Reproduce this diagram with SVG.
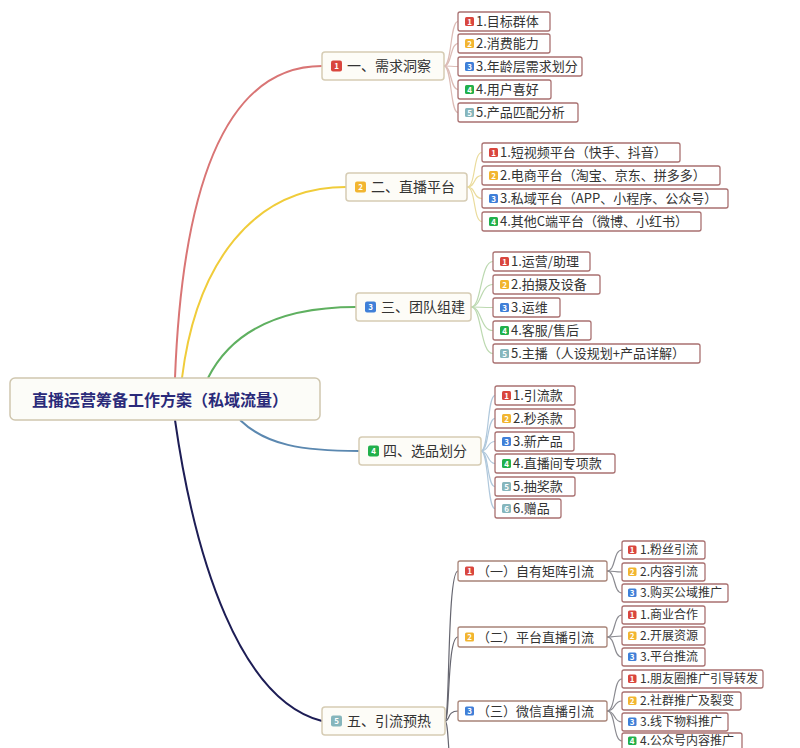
<svg xmlns="http://www.w3.org/2000/svg" width="800" height="748" viewBox="0 0 800 748">
<style>
text{font-family:"Noto Sans CJK SC","Noto Sans",sans-serif;}
.root{fill:#fcfcf8;stroke:#cfc6ae;stroke-width:1.5;}
.rt{font-size:16px;font-weight:bold;fill:#2a2a7a;}
.br{fill:#fdfcf7;stroke:#d6ccb4;stroke-width:1.5;}
.brt{font-size:14px;fill:#333;}
.sub{fill:#fff;stroke:#a88478;stroke-width:1.3;}
.subt{font-size:13px;fill:#333;}
.leaf{fill:#fff;stroke:#a97070;stroke-width:1.3;}
.lt{font-size:13px;fill:#333;}
.lt5{font-size:12px;fill:#333;}
.bt{font-size:8px;font-weight:bold;fill:#fff;text-anchor:middle;}
.c1{fill:#d9463e;}.c2{fill:#f2b530;}.c3{fill:#3f7fd8;}.c4{fill:#22b04b;}.c5{fill:#86b6bc;}
.main{fill:none;stroke-width:2;}
.k{fill:none;stroke-width:1.2;}
</style>
<rect width="800" height="748" fill="#ffffff"/>
<g id="connectors">
<path class="main" stroke="#d97575" d="M175 378 C 183 170, 232 66, 322 66"/>
<path class="main" stroke="#f0cc3a" d="M182 378 C 196 265, 252 187, 346 187"/>
<path class="main" stroke="#5fb060" d="M208 378 C 232 330, 282 307, 356 307"/>
<path class="main" stroke="#5b88b0" d="M240 420 C 266 445, 302 451, 359 451"/>
<path class="main" stroke="#1d1d55" d="M175 420 C 195 560, 240 700, 322 721"/>
<g stroke="#dcbcb6">
<path class="k" d="M444 66 C 452 66, 450 21.5, 458 21.5"/>
<path class="k" d="M444 66 C 452 66, 450 43.5, 458 43.5"/>
<path class="k" d="M444 66 C 452 66, 450 66.5, 458 66.5"/>
<path class="k" d="M444 66 C 452 66, 450 89.5, 458 89.5"/>
<path class="k" d="M444 66 C 452 66, 450 112.5, 458 112.5"/>
</g>
<g stroke="#eadb9c">
<path class="k" d="M467 187 C 476 187, 473 152.5, 482 152.5"/>
<path class="k" d="M467 187 C 476 187, 473 175.5, 482 175.5"/>
<path class="k" d="M467 187 C 476 187, 473 198.5, 482 198.5"/>
<path class="k" d="M467 187 C 476 187, 473 221.5, 482 221.5"/>
</g>
<g stroke="#bcd9b0">
<path class="k" d="M471 307 C 482 307, 480 261.5, 493 261.5"/>
<path class="k" d="M471 307 C 482 307, 480 284.5, 493 284.5"/>
<path class="k" d="M471 307 C 482 307, 480 307.5, 493 307.5"/>
<path class="k" d="M471 307 C 482 307, 480 330.5, 493 330.5"/>
<path class="k" d="M471 307 C 482 307, 480 353.5, 493 353.5"/>
</g>
<g stroke="#b0c8dc">
<path class="k" d="M481 451 C 489 451, 487 395.5, 495 395.5"/>
<path class="k" d="M481 451 C 489 451, 487 418.5, 495 418.5"/>
<path class="k" d="M481 451 C 489 451, 487 441.5, 495 441.5"/>
<path class="k" d="M481 451 C 489 451, 487 463.5, 495 463.5"/>
<path class="k" d="M481 451 C 489 451, 487 486.5, 495 486.5"/>
<path class="k" d="M481 451 C 489 451, 487 508.5, 495 508.5"/>
</g>
<g stroke="#666670">
<path class="k" d="M445 721 C 450 721, 447 571, 458 571"/>
<path class="k" d="M445 721 C 450 721, 447 637, 458 637"/>
<path class="k" d="M445 721 C 450 721, 447 711, 458 711"/>
<path class="k" d="M445 721 C 450 721, 447 790, 458 790"/>
</g>
<g stroke="#8a8a90">
<path class="k" d="M607 571 C 616 571, 613 550, 622 550"/>
<path class="k" d="M607 571 C 616 571, 613 572, 622 572"/>
<path class="k" d="M607 571 C 616 571, 613 593, 622 593"/>
<path class="k" d="M607 637 C 616 637, 613 615, 622 615"/>
<path class="k" d="M607 637 C 616 637, 613 636, 622 636"/>
<path class="k" d="M607 637 C 616 637, 613 657, 622 657"/>
<path class="k" d="M607 711 C 616 711, 613 679, 622 679"/>
<path class="k" d="M607 711 C 616 711, 613 701, 622 701"/>
<path class="k" d="M607 711 C 616 711, 613 722, 622 722"/>
<path class="k" d="M607 711 C 616 711, 613 741, 622 741"/>
</g>
</g>

<g id="root">
<rect class="root" x="10" y="378" width="310" height="42" rx="5"/>
<text class="rt" x="32" y="405.5">直播运营筹备工作方案（私域流量）</text>
</g>

<!-- Branch 1 -->
<g id="b1">
<rect class="br" x="322" y="52" width="122" height="28" rx="3"/>
<rect class="c1" x="331" y="60.5" width="11" height="11" rx="2"/>
<text class="bt" x="336.5" y="69">1</text>
<text class="brt" x="347" y="71">一、需求洞察</text>
</g>
<g id="b1-1"><rect class="leaf" x="458" y="12" width="92" height="19" rx="2"/><rect class="c1" x="465" y="17" width="9" height="9" rx="1.5"/><text class="bt" x="469.5" y="24.5">1</text><text class="lt" x="476" y="26">1.目标群体</text></g>
<g id="b1-2"><rect class="leaf" x="458" y="34" width="92" height="19" rx="2"/><rect class="c2" x="465" y="39" width="9" height="9" rx="1.5"/><text class="bt" x="469.5" y="46.5">2</text><text class="lt" x="476" y="48">2.消费能力</text></g>
<g id="b1-3"><rect class="leaf" x="458" y="57" width="124" height="19" rx="2"/><rect class="c3" x="465" y="62" width="9" height="9" rx="1.5"/><text class="bt" x="469.5" y="69.5">3</text><text class="lt" x="476" y="71">3.年龄层需求划分</text></g>
<g id="b1-4"><rect class="leaf" x="458" y="80" width="93" height="19" rx="2"/><rect class="c4" x="465" y="85" width="9" height="9" rx="1.5"/><text class="bt" x="469.5" y="92.5">4</text><text class="lt" x="476" y="94">4.用户喜好</text></g>
<g id="b1-5"><rect class="leaf" x="458" y="103" width="120" height="19" rx="2"/><rect class="c5" x="465" y="108" width="9" height="9" rx="1.5"/><text class="bt" x="469.5" y="115.5">5</text><text class="lt" x="476" y="117">5.产品匹配分析</text></g>

<!-- Branch 2 -->
<g id="b2">
<rect class="br" x="346" y="173" width="121" height="28" rx="3"/>
<rect class="c2" x="355" y="181.5" width="11" height="11" rx="2"/>
<text class="bt" x="360.5" y="190">2</text>
<text class="brt" x="371" y="192">二、直播平台</text>
</g>
<g id="b2-1"><rect class="leaf" x="482" y="143" width="198" height="19" rx="2"/><rect class="c1" x="489" y="148" width="9" height="9" rx="1.5"/><text class="bt" x="493.5" y="155.5">1</text><text class="lt" x="500" y="157">1.短视频平台（快手、抖音）</text></g>
<g id="b2-2"><rect class="leaf" x="482" y="166" width="238" height="19" rx="2"/><rect class="c2" x="489" y="171" width="9" height="9" rx="1.5"/><text class="bt" x="493.5" y="178.5">2</text><text class="lt" x="500" y="180">2.电商平台（淘宝、京东、拼多多）</text></g>
<g id="b2-3"><rect class="leaf" x="482" y="189" width="246" height="19" rx="2"/><rect class="c3" x="489" y="194" width="9" height="9" rx="1.5"/><text class="bt" x="493.5" y="201.5">3</text><text class="lt" x="500" y="203">3.私域平台（APP、小程序、公众号）</text></g>
<g id="b2-4"><rect class="leaf" x="482" y="212" width="219" height="19" rx="2"/><rect class="c4" x="489" y="217" width="9" height="9" rx="1.5"/><text class="bt" x="493.5" y="224.5">4</text><text class="lt" x="500" y="226">4.其他C端平台（微博、小红书）</text></g>

<!-- Branch 3 -->
<g id="b3">
<rect class="br" x="356" y="293" width="115" height="28" rx="3"/>
<rect class="c3" x="365" y="301.5" width="11" height="11" rx="2"/>
<text class="bt" x="370.5" y="310">3</text>
<text class="brt" x="381" y="312">三、团队组建</text>
</g>
<g id="b3-1"><rect class="leaf" x="493" y="252" width="97" height="19" rx="2"/><rect class="c1" x="500" y="257" width="9" height="9" rx="1.5"/><text class="bt" x="504.5" y="264.5">1</text><text class="lt" x="511" y="266">1.运营/助理</text></g>
<g id="b3-2"><rect class="leaf" x="493" y="275" width="107" height="19" rx="2"/><rect class="c2" x="500" y="280" width="9" height="9" rx="1.5"/><text class="bt" x="504.5" y="287.5">2</text><text class="lt" x="511" y="289">2.拍摄及设备</text></g>
<g id="b3-3"><rect class="leaf" x="493" y="298" width="67" height="19" rx="2"/><rect class="c3" x="500" y="303" width="9" height="9" rx="1.5"/><text class="bt" x="504.5" y="310.5">3</text><text class="lt" x="511" y="312">3.运维</text></g>
<g id="b3-4"><rect class="leaf" x="493" y="321" width="98" height="19" rx="2"/><rect class="c4" x="500" y="326" width="9" height="9" rx="1.5"/><text class="bt" x="504.5" y="333.5">4</text><text class="lt" x="511" y="335">4.客服/售后</text></g>
<g id="b3-5"><rect class="leaf" x="493" y="344" width="207" height="19" rx="2"/><rect class="c5" x="500" y="349" width="9" height="9" rx="1.5"/><text class="bt" x="504.5" y="356.5">5</text><text class="lt" x="511" y="358">5.主播（人设规划+产品详解）</text></g>

<!-- Branch 4 -->
<g id="b4">
<rect class="br" x="359" y="437" width="122" height="28" rx="3"/>
<rect class="c4" x="368" y="445.5" width="11" height="11" rx="2"/>
<text class="bt" x="373.5" y="454">4</text>
<text class="brt" x="383" y="456">四、选品划分</text>
</g>
<g id="b4-1"><rect class="leaf" x="495" y="386" width="80" height="19" rx="2"/><rect class="c1" x="502" y="391" width="9" height="9" rx="1.5"/><text class="bt" x="506.5" y="398.5">1</text><text class="lt" x="513" y="400">1.引流款</text></g>
<g id="b4-2"><rect class="leaf" x="495" y="409" width="80" height="19" rx="2"/><rect class="c2" x="502" y="414" width="9" height="9" rx="1.5"/><text class="bt" x="506.5" y="421.5">2</text><text class="lt" x="513" y="423">2.秒杀款</text></g>
<g id="b4-3"><rect class="leaf" x="495" y="432" width="79" height="19" rx="2"/><rect class="c3" x="502" y="437" width="9" height="9" rx="1.5"/><text class="bt" x="506.5" y="444.5">3</text><text class="lt" x="513" y="446">3.新产品</text></g>
<g id="b4-4"><rect class="leaf" x="495" y="454" width="120" height="19" rx="2"/><rect class="c4" x="502" y="459" width="9" height="9" rx="1.5"/><text class="bt" x="506.5" y="466.5">4</text><text class="lt" x="513" y="468">4.直播间专项款</text></g>
<g id="b4-5"><rect class="leaf" x="495" y="477" width="80" height="19" rx="2"/><rect class="c5" x="502" y="482" width="9" height="9" rx="1.5"/><text class="bt" x="506.5" y="489.5">5</text><text class="lt" x="513" y="491">5.抽奖款</text></g>
<g id="b4-6"><rect class="leaf" x="495" y="499" width="66" height="19" rx="2"/><rect class="c5" x="502" y="504" width="9" height="9" rx="1.5"/><text class="bt" x="506.5" y="511.5">6</text><text class="lt" x="513" y="513">6.赠品</text></g>

<!-- Branch 5 -->
<g id="b5">
<rect class="br" x="322" y="707" width="123" height="28" rx="3"/>
<rect class="c5" x="331" y="715.5" width="11" height="11" rx="2"/>
<text class="bt" x="336.5" y="724">5</text>
<text class="brt" x="347" y="726">五、引流预热</text>
</g>
<g id="b5-1"><rect class="sub" x="458" y="561" width="149" height="20" rx="2"/><rect class="c1" x="465" y="566.5" width="9" height="9" rx="1.5"/><text class="bt" x="469.5" y="574">1</text><text class="subt" x="477" y="575.5">（一）自有矩阵引流</text></g>
<g id="b5-2"><rect class="sub" x="458" y="627" width="149" height="20" rx="2"/><rect class="c2" x="465" y="632.5" width="9" height="9" rx="1.5"/><text class="bt" x="469.5" y="640">2</text><text class="subt" x="477" y="641.5">（二）平台直播引流</text></g>
<g id="b5-3"><rect class="sub" x="458" y="701" width="149" height="20" rx="2"/><rect class="c3" x="465" y="706.5" width="9" height="9" rx="1.5"/><text class="bt" x="469.5" y="714">3</text><text class="subt" x="477" y="715.5">（三）微信直播引流</text></g>

<g id="b5-1-1"><rect class="leaf" x="622" y="541" width="83" height="18" rx="2"/><rect class="c1" x="628" y="545.5" width="8.5" height="8.5" rx="1.5"/><text class="bt" x="632.2" y="552.5">1</text><text class="lt5" x="640" y="554">1.粉丝引流</text></g>
<g id="b5-1-2"><rect class="leaf" x="622" y="563" width="83" height="18" rx="2"/><rect class="c2" x="628" y="567.5" width="8.5" height="8.5" rx="1.5"/><text class="bt" x="632.2" y="574.5">2</text><text class="lt5" x="640" y="576">2.内容引流</text></g>
<g id="b5-1-3"><rect class="leaf" x="622" y="584" width="106" height="18" rx="2"/><rect class="c3" x="628" y="588.5" width="8.5" height="8.5" rx="1.5"/><text class="bt" x="632.2" y="595.5">3</text><text class="lt5" x="640" y="597">3.购买公域推广</text></g>
<g id="b5-2-1"><rect class="leaf" x="622" y="606" width="83" height="18" rx="2"/><rect class="c1" x="628" y="610.5" width="8.5" height="8.5" rx="1.5"/><text class="bt" x="632.2" y="617.5">1</text><text class="lt5" x="640" y="619">1.商业合作</text></g>
<g id="b5-2-2"><rect class="leaf" x="622" y="627" width="83" height="18" rx="2"/><rect class="c2" x="628" y="631.5" width="8.5" height="8.5" rx="1.5"/><text class="bt" x="632.2" y="638.5">2</text><text class="lt5" x="640" y="640">2.开展资源</text></g>
<g id="b5-2-3"><rect class="leaf" x="622" y="648" width="83" height="18" rx="2"/><rect class="c3" x="628" y="652.5" width="8.5" height="8.5" rx="1.5"/><text class="bt" x="632.2" y="659.5">3</text><text class="lt5" x="640" y="661">3.平台推流</text></g>
<g id="b5-3-1"><rect class="leaf" x="622" y="670" width="141" height="18" rx="2"/><rect class="c1" x="628" y="674.5" width="8.5" height="8.5" rx="1.5"/><text class="bt" x="632.2" y="681.5">1</text><text class="lt5" x="640" y="683">1.朋友圈推广引导转发</text></g>
<g id="b5-3-2"><rect class="leaf" x="622" y="692" width="119" height="18" rx="2"/><rect class="c2" x="628" y="696.5" width="8.5" height="8.5" rx="1.5"/><text class="bt" x="632.2" y="703.5">2</text><text class="lt5" x="640" y="705">2.社群推广及裂变</text></g>
<g id="b5-3-3"><rect class="leaf" x="622" y="713" width="106" height="18" rx="2"/><rect class="c3" x="628" y="717.5" width="8.5" height="8.5" rx="1.5"/><text class="bt" x="632.2" y="724.5">3</text><text class="lt5" x="640" y="726">3.线下物料推广</text></g>
<g id="b5-3-4"><rect class="leaf" x="622" y="733" width="120" height="17" rx="2"/><rect class="c4" x="628" y="736.5" width="8.5" height="8.5" rx="1.5"/><text class="bt" x="632.2" y="743.5">4</text><text class="lt5" x="640" y="745">4.公众号内容推广</text></g>
</svg>
